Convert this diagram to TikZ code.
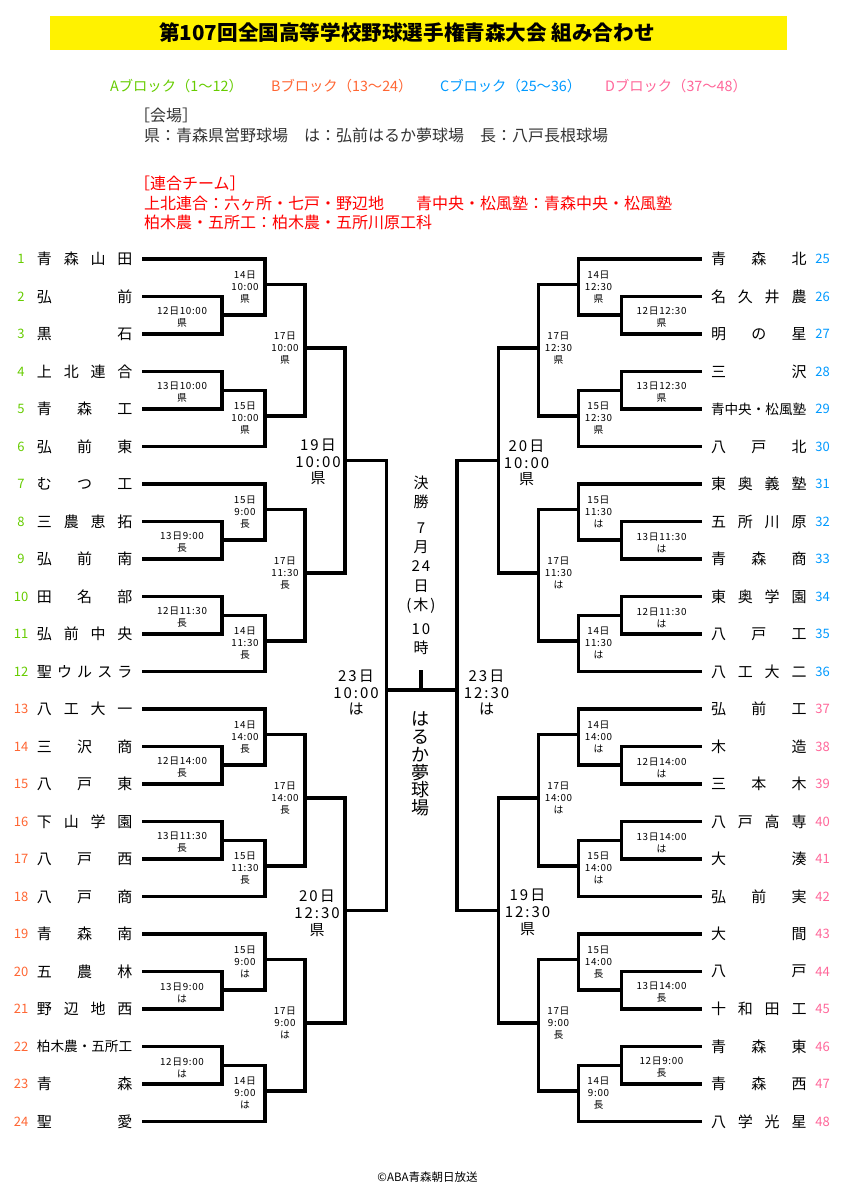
\documentclass[tikz,border=0pt]{standalone}
\usepackage{fontspec}
\setmainfont{Noto Sans CJK JP}
\newfontfamily\lblfont[LetterSpace=7]{Noto Sans CJK JP}
\newfontfamily\bigfont[LetterSpace=13]{Noto Sans CJK JP}
\definecolor{blkA}{HTML}{66CC00}
\definecolor{blkB}{HTML}{FF6633}
\definecolor{blkC}{HTML}{0099FF}
\definecolor{blkD}{HTML}{FF6699}
\definecolor{venue}{HTML}{333333}
% one block of six teams: name, top y, then the five match labels
\newcommand{\grp}[7]{%
  \foreach \k in {1,...,6}{\coordinate (#1t\k) at (142, #2-37.5+37.5*\k);}
  \coordinate (#1a) at (222, #2+56);
  \coordinate (#1b) at (265, #2+25.5);
  \coordinate (#1c) at (222, #2+131.5);
  \coordinate (#1d) at (265, #2+157);
  \coordinate (#1q) at (305, #2+89);
  \draw[bk] (#1t2) -| (#1a) |- (#1t3);
  \draw[bk] (#1t1) -| (#1b) |- (#1a);
  \draw[bk] (#1t4) -| (#1c) |- (#1t5);
  \draw[bk] (#1c) -| (#1d) |- (#1t6);
  \draw[bk] (#1b) -| (#1q) |- (#1d);
  \node[sm] (#1la) at (182, #2+58.5) {#3};
  \node[sm] (#1lb) at (245, #2+28) {#4};
  \node[sm] (#1lc) at (182, #2+133.5) {#5};
  \node[sm] (#1ld) at (245, #2+159) {#6};
  \node[sm] (#1lq) at (285, #2+89) {#7};
}

\begin{document}
\begin{tikzpicture}[x=1bp, y=-1bp,
  bk/.style={line width=3.5bp},
  sm/.style={align=center, inner sep=0pt, font=\lblfont\fontsize{9.8bp}{12bp}\selectfont},
  md/.style={align=center, inner sep=0pt, font=\bigfont\fontsize{15bp}{16.8bp}\selectfont},
  tm/.style={inner sep=0pt, font=\fontsize{15bp}{15bp}\selectfont},
  num/.style={inner sep=0pt, font=\fontsize{13bp}{13bp}\selectfont},
  blk/.style={inner sep=0pt, anchor=west, font=\fontsize{14.3bp}{14.3bp}\selectfont},
  txt/.style={inner sep=0pt, anchor=west, font=\fontsize{16bp}{16bp}\selectfont}]
			%%%%% HEADER %%%%%
			\useasboundingbox (0,0) rectangle (842,1191);
			\fill[yellow] (50,16) rectangle (787,49.5);
			\node[font=\bfseries\fontsize{20.6bp}{22bp}\selectfont] (title) at (407,33) {第107回全国高等学校野球選手権青森大会 組み合わせ};
			
			\node[blk, text=blkA] (blA) at (110,86) {Aブロック（1〜12）};
			\node[blk, text=blkB] (blB) at (271,86) {Bブロック（13〜24）};
			\node[blk, text=blkC] (blC) at (440,86) {Cブロック（25〜36）};
			\node[blk, text=blkD] (blD) at (605,86) {Dブロック（37〜48）};
			
			\node[txt, text=venue] (v1) at (134,115) {［会場］};
			\node[txt, text=venue] (v2) at (144,135) {県：青森県営野球場　は：弘前はるか夢球場　長：八戸長根球場};
			
			\node[txt, text=red] (r1) at (134,183.5) {［連合チーム］};
			\node[txt, text=red] (r2) at (144,203.3) {上北連合：六ヶ所・七戸・野辺地　　青中央・松風塾：青森中央・松風塾};
			\node[txt, text=red] (r3) at (144,222) {柏木農・五所工：柏木農・五所川原工科};
			
			%%%%% LEFT %%%%%
			\foreach \nm [count=\i from 1] in {青 森 山 田,弘 前,黒 石,上 北 連 合,青 森 工,弘 前 東,む つ 工,三 農 恵 拓,弘 前 南,田 名 部,弘 前 中 央,聖 ウ ル ス ラ}{
				\node[tm] (n\i) at (84.75, 221.5+37.5*\i) {\makebox[95.5bp][s]{\ignorespaces\nm\unskip}};
				\node[num, text=blkA] (m\i) at (21, 221.5+37.5*\i) {\i};
			}
			\foreach \nm [count=\i from 13] in {八 工 大 一,三 沢 商,八 戸 東,下 山 学 園,八 戸 西,八 戸 商,青 森 南,五 農 林,野 辺 地 西,{\fontsize{13.6bp}{14bp}\selectfont 柏木農・五所工},青 森,聖 愛}{
				\node[tm] (n\i) at (84.75, 221.5+37.5*\i) {\makebox[95.5bp][s]{\ignorespaces\nm\unskip}};
				\node[num, text=blkB] (m\i) at (21, 221.5+37.5*\i) {\i};
			}
			
			\grp{A1}{259}{12日10:00\\県}{14日\\10:00\\県}{13日10:00\\県}{15日\\10:00\\県}{17日\\10:00\\県}
			\grp{A2}{484}{13日9:00\\長}{15日\\9:00\\長}{12日11:30\\長}{14日\\11:30\\長}{17日\\11:30\\長}
			\grp{B1}{709}{12日14:00\\長}{14日\\14:00\\長}{13日11:30\\長}{15日\\11:30\\長}{17日\\14:00\\長}
			\grp{B2}{934}{13日9:00\\は}{15日\\9:00\\は}{12日9:00\\は}{14日\\9:00\\は}{17日\\9:00\\は}
			
			\coordinate (Aj) at (345,460.5);
			\coordinate (Bj) at (345,910.5);
			\coordinate (L) at (386.7,690);
			\draw[bk] (A1q) -| (Aj) |- (A2q);
			\draw[bk] (B1q) -| (Bj) |- (B2q);
			\draw[bk] (Aj) -| (L) |- (Bj);
			\node[md] (Al) at (318,462) {19日\\10:00\\県};
			\node[md] (Bl) at (317,913) {20日\\12:30\\県};
			\node[md] (Ll) at (356,692.5) {23日\\10:00\\は};
			
			%%%%% RIGHT (mirrored) %%%%%
			\begin{scope}[xshift=843.5bp, xscale=-1]
				\foreach \nm [count=\i from 25] in {青 森 北,名 久 井 農,明 の 星,三 沢,{\fontsize{13.6bp}{14bp}\selectfont 青中央・松風塾},八 戸 北,東 奥 義 塾,五 所 川 原,青 森 商,東 奥 学 園,八 戸 工,八 工 大 二}{
					\node[tm] (n\i) at (84.75, -678.5+37.5*\i) {\makebox[95.5bp][s]{\ignorespaces\nm\unskip}};
					\node[num, text=blkC] (m\i) at (21, -678.5+37.5*\i) {\i};
				}
				\foreach \nm [count=\i from 37] in {弘 前 工,木 造,三 本 木,八 戸 高 専,大 湊,弘 前 実,大 間,八 戸,十 和 田 工,青 森 東,青 森 西,八 学 光 星}{
					\node[tm] (n\i) at (84.75, -678.5+37.5*\i) {\makebox[95.5bp][s]{\ignorespaces\nm\unskip}};
					\node[num, text=blkD] (m\i) at (21, -678.5+37.5*\i) {\i};
				}
				
				\grp{C1}{259}{12日12:30\\県}{14日\\12:30\\県}{13日12:30\\県}{15日\\12:30\\県}{17日\\12:30\\県}
				\grp{C2}{484}{13日11:30\\は}{15日\\11:30\\は}{12日11:30\\は}{14日\\11:30\\は}{17日\\11:30\\は}
				\grp{D1}{709}{12日14:00\\は}{14日\\14:00\\は}{13日14:00\\は}{15日\\14:00\\は}{17日\\14:00\\は}
				\grp{D2}{934}{13日14:00\\長}{15日\\14:00\\長}{12日9:00\\長}{14日\\9:00\\長}{17日\\9:00\\長}
				
				\coordinate (Cj) at (345,460.5);
				\coordinate (Dj) at (345,910.5);
				\coordinate (R) at (386.7,690);
				\draw[bk] (C1q) -| (Cj) |- (C2q);
				\draw[bk] (D1q) -| (Dj) |- (D2q);
				\draw[bk] (Cj) -| (R) |- (Dj);
				\node[md] (Cl) at (317,463) {20日\\10:00\\県};
				\node[md] (Dl) at (316,912) {19日\\12:30\\県};
				\node[md] (Rl) at (357,692.5) {23日\\12:30\\は};
			\end{scope}
			
			%%%%% FINAL %%%%%
			\draw[bk] (L) -- (R);
			\coordinate (fin) at (421,670);
			\draw[bk] (fin) -- (fin |- L);
			\node[align=center, inner sep=0pt, font=\bigfont\fontsize{15bp}{19.3bp}\selectfont] (day) at (421,565.5) {決\\勝\\[6bp]7\\月\\24\\日\\(木)\\[5bp]10\\時};
			\node[align=center, inner sep=0pt, font=\fontsize{18bp}{17.7bp}\selectfont] (park) at (420,764) {は\\る\\か\\夢\\球\\場};
			
			\node[inner sep=0pt, font=\fontsize{11.5bp}{12bp}\selectfont] (copy) at (427.5,1177) {©ABA青森朝日放送};
			%%%%% END %%%%%
\end{tikzpicture}
\end{document}
